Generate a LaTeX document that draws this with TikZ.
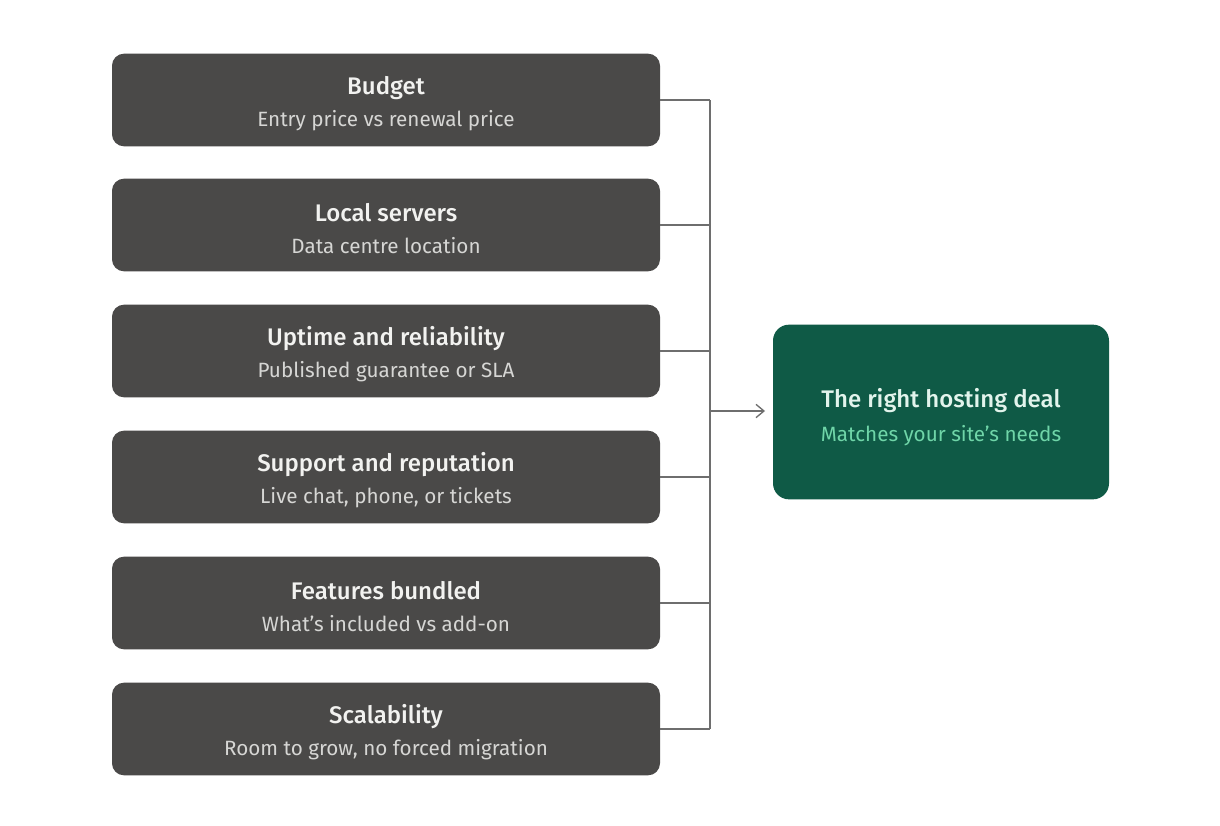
\documentclass[tikz,border=0pt]{standalone}
\usepackage{fontspec}
\setmainfont{Fira Sans}[BoldFont={Fira Sans Medium}]
\usetikzlibrary{arrows.meta}
\definecolor{boxgray}{HTML}{4A4948}
\definecolor{ttlgray}{HTML}{F2F2F0}
\definecolor{subgray}{HTML}{D6D6D4}
\definecolor{dealgreen}{HTML}{0F5A46}
\definecolor{dealttl}{HTML}{E2F4EC}
\definecolor{dealsub}{HTML}{6FD5A8}
\definecolor{linegray}{HTML}{6E6E6E}
\begin{document}
\begin{tikzpicture}[x=0.75pt,y=-0.75pt,
  factor/.style={rounded corners=9pt,fill=boxgray,minimum width=411pt,minimum height=69.5pt,inner sep=0pt},
  deal/.style={rounded corners=12pt,fill=dealgreen,minimum width=252pt,minimum height=131pt,inner sep=0pt},
  ttl/.style={font=\fontsize{18}{20}\selectfont\bfseries,text=ttlgray,inner sep=0pt},
  sub/.style={font=\fontsize{15.5}{18}\selectfont,text=subgray,inner sep=0pt},
  conn/.style={draw=linegray,line width=1pt}]
\useasboundingbox (0,0) rectangle (1220,825);
\fill[white] (0,0) rectangle (1220,825);
\foreach \n/\y/\t/\s in {a/100/Budget/Entry price vs renewal price,
  b/225/Local servers/Data centre location,
  c/351/Uptime and reliability/Published guarantee or SLA,
  d/477/Support and reputation/{Live chat, phone, or tickets},
  e/603/Features bundled/What’s included vs add-on,
  f/729/Scalability/{Room to grow, no forced migration}}{
  \node[factor] (\n) at (386,\y) {};
  \node[ttl] (\n t) at (386,\y-12) {\t};
  \node[sub] (\n s) at (386,\y+21) {\s};
}
\coordinate (ja) at (710,100);
\coordinate (jf) at (710,729);
\coordinate (jm) at (710,411);
\foreach \n in {a,b,c,d,e,f}{
  \draw[conn] (\n.east) -- (\n.east -| ja);
}
\draw[conn] (ja) -- (jf);
\node[deal] (g) at (941,412) {};
\node[ttl,text=dealttl] (gt) at (941,401) {The right hosting deal};
\node[sub,text=dealsub] (gs) at (941,436) {Matches your site’s needs};
\draw[conn,-{Straight Barb[length=6pt,width=10pt]}] (jm) -- (765,411);
\end{tikzpicture}
\end{document}
